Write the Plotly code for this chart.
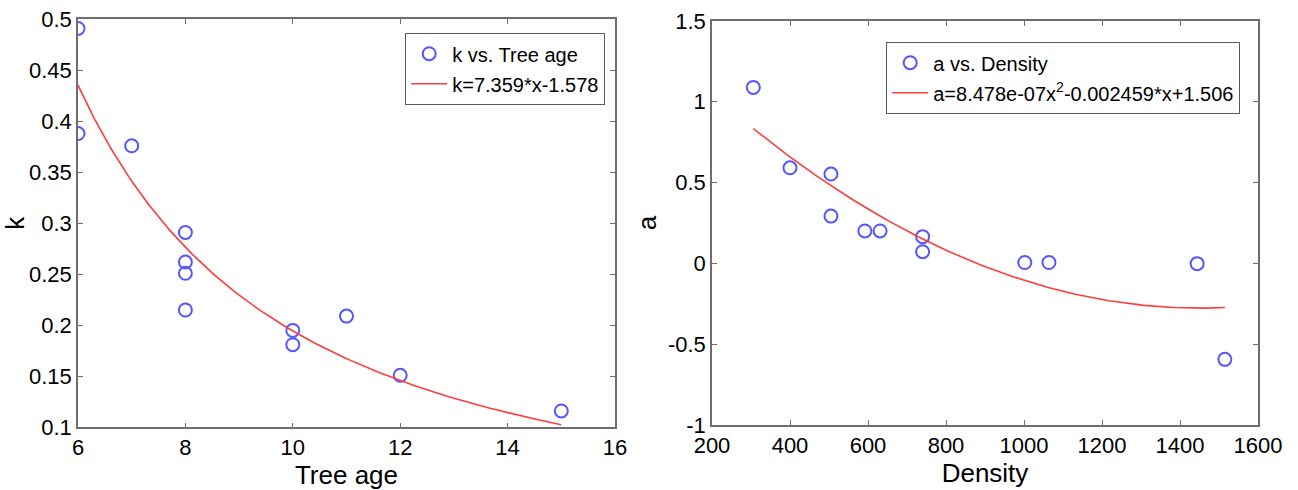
import numpy as np
import plotly.graph_objects as go

# ---- data: k vs. tree age ----
tree_age = [6, 6, 7, 8, 8, 8, 8, 10, 10, 11, 12, 15]
k_values = [0.491, 0.388, 0.376, 0.291, 0.262, 0.251, 0.215, 0.195, 0.181, 0.209, 0.151, 0.116]
# power fit k = c * x^p
k_coef = 7.359
k_power = -1.578
k_fit_range = [6, 15]

# ---- data: a vs. density ----
density = [306, 400, 505, 505, 592, 631, 740, 740, 1002, 1064, 1444, 1515]
a_values = [1.088, 0.591, 0.552, 0.292, 0.200, 0.200, 0.165, 0.072, 0.005, 0.005, -0.002, -0.594]
# quadratic fit a = q2*x^2 + q1*x + q0
a_q2 = 8.478e-07
a_q1 = -0.002459
a_q0 = 1.506
a_fit_range = [306, 1515]

# tick labels
k_ticks = [0.1, 0.15, 0.2, 0.25, 0.3, 0.35, 0.4, 0.45, 0.5]
k_tick_text = ["0.1", "0.15", "0.2", "0.25", "0.3", "0.35", "0.4", "0.45", "0.5"]
age_ticks = [6, 8, 10, 12, 14, 16]
a_ticks = [-1, -0.5, 0, 0.5, 1, 1.5]
a_tick_text = ["-1", "-0.5", "0", "0.5", "1", "1.5"]
dens_ticks = [200, 400, 600, 800, 1000, 1200, 1400, 1600]

W, H = 1298, 490
FONT = "Liberation Sans, Arial, Helvetica, sans-serif"
BLUE = "rgb(85,85,255)"
RED = "rgb(255,60,60)"
AXIS = "rgb(110,110,110)"

xk = np.linspace(k_fit_range[0], k_fit_range[1], 200)
yk = k_coef * xk ** k_power
xa = np.linspace(a_fit_range[0], a_fit_range[1], 200)
ya = a_q2 * xa ** 2 + a_q1 * xa + a_q0

fig = go.Figure()
fig.add_trace(go.Scatter(
    x=tree_age, y=k_values, mode="markers", name="k vs. Tree age",
    marker=dict(symbol="circle-open", size=13, color=BLUE, line=dict(width=2, color=BLUE)),
    xaxis="x", yaxis="y", legend="legend", legendgroup="k1"))
fig.add_trace(go.Scatter(
    x=xk, y=yk, mode="lines", name="k=7.359*x-1.578",
    line=dict(color=RED, width=1.6),
    xaxis="x", yaxis="y", legend="legend", legendgroup="k2"))
fig.add_trace(go.Scatter(
    x=density, y=a_values, mode="markers", name="a vs. Density",
    marker=dict(symbol="circle-open", size=13, color=BLUE, line=dict(width=2, color=BLUE)),
    xaxis="x2", yaxis="y2", legend="legend2", legendgroup="a1"))
fig.add_trace(go.Scatter(
    x=xa, y=ya, mode="lines", name="a=8.478e-07x<sup>2</sup>-0.002459*x+1.506",
    line=dict(color=RED, width=1.6),
    xaxis="x2", yaxis="y2", legend="legend2", legendgroup="a2"))

def px_x(p):
    return p / W

def px_y(p):
    return 1 - p / H

axis_common = dict(
    showgrid=False, zeroline=False, showline=True, linecolor=AXIS, linewidth=1.5,
    mirror="ticks", ticks="inside", ticklen=5, tickcolor=AXIS, tickwidth=1.2,
    tickfont=dict(family=FONT, size=22, color="black"), automargin=False,
)
title_font = dict(family=FONT, size=26, color="black")

fig.update_layout(
    width=W, height=H,
    margin=dict(l=0, r=0, t=0, b=0),
    paper_bgcolor="white", plot_bgcolor="white",
    font=dict(family=FONT, color="black"),
    xaxis=dict(axis_common, domain=[px_x(78), px_x(615)], range=[6, 16],
               tickvals=age_ticks, anchor="y",
               title=dict(text="Tree age", font=title_font, standoff=4)),
    yaxis=dict(axis_common, domain=[px_y(427.3), px_y(19.3)], range=[0.1, 0.5],
               tickvals=k_ticks, ticktext=k_tick_text, anchor="x",
               title=dict(text="k", font=title_font, standoff=4)),
    xaxis2=dict(axis_common, domain=[px_x(712), px_x(1258)], range=[200, 1600],
                tickvals=dens_ticks, anchor="y2",
                title=dict(text="Density", font=title_font, standoff=4)),
    yaxis2=dict(axis_common, domain=[px_y(425), px_y(20.8)], range=[-1, 1.5],
                tickvals=a_ticks, ticktext=a_tick_text, anchor="x2",
                title=dict(text="a", font=title_font, standoff=4)),
    legend=dict(x=px_x(605), xanchor="right", y=px_y(33), yanchor="top",
                bgcolor="white", bordercolor="rgb(90,90,90)", borderwidth=1.2,
                font=dict(family=FONT, size=20, color="black"), tracegroupgap=1,
                itemwidth=36),
    legend2=dict(x=px_x(1240), xanchor="right", y=px_y(42), yanchor="top",
                 bgcolor="white", bordercolor="rgb(90,90,90)", borderwidth=1.2,
                 font=dict(family=FONT, size=20, color="black"), tracegroupgap=1,
                 itemwidth=36),
)

fig.write_html("out.html")
